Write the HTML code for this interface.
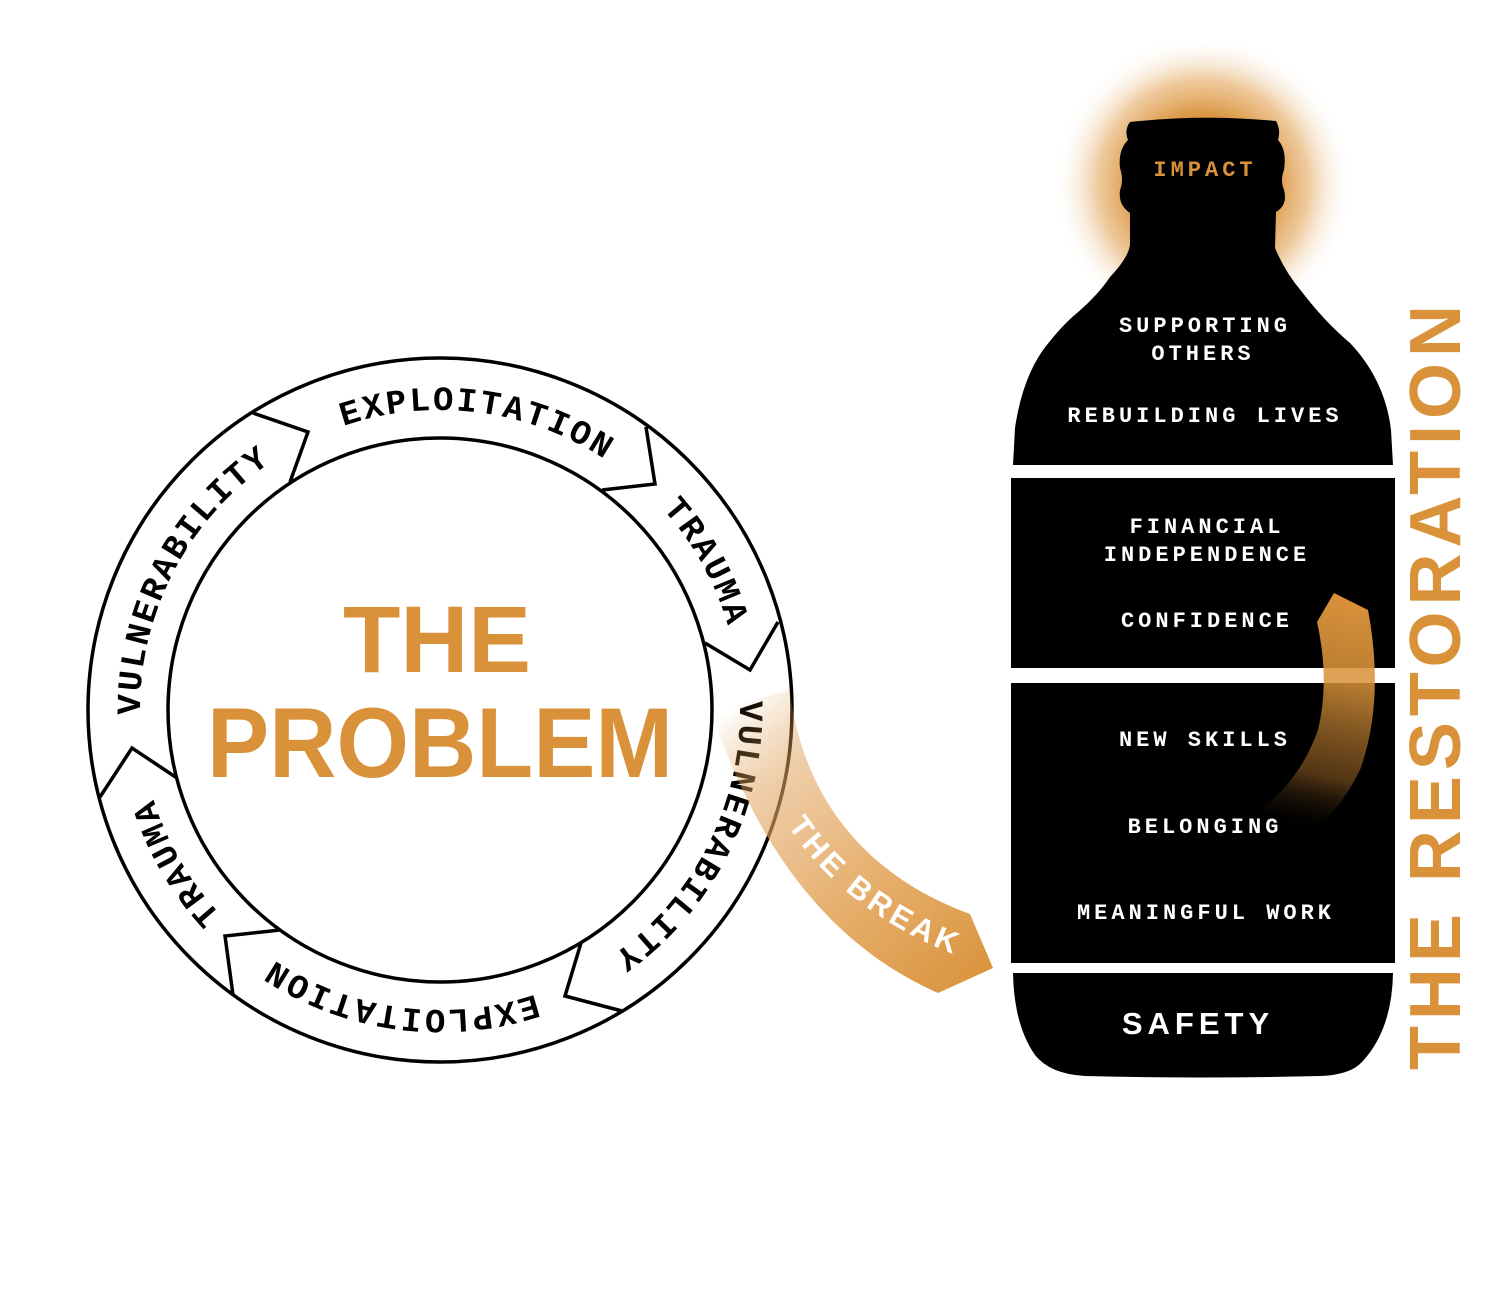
<!DOCTYPE html>
<html><head><meta charset="utf-8"><style>
html,body{margin:0;padding:0;background:#fff;}
svg{display:block;}
.ring{font-family:"Liberation Mono",monospace;font-weight:bold;font-size:34px;letter-spacing:2.5px;fill:#000;}
.bt{font-family:"Liberation Mono",monospace;font-weight:bold;font-size:22px;letter-spacing:4px;fill:#fff;text-anchor:middle;}
</style></head><body>
<svg width="1500" height="1311" viewBox="0 0 1500 1311" xmlns="http://www.w3.org/2000/svg">
<defs>
<path id="cp" d="M740,710 A300,300 0 1 1 140,710 A300,300 0 1 1 740,710 A300,300 0 1 1 140,710 A300,300 0 1 1 740,710"/>
<path id="bp" d="M745,725 C770,835 850,920 975,962"/>
<linearGradient id="brk" x1="740" y1="700" x2="980" y2="990" gradientUnits="userSpaceOnUse">
<stop offset="0" stop-color="#d9923a" stop-opacity="0"/>
<stop offset="0.22" stop-color="#e2a664" stop-opacity="0.55"/>
<stop offset="0.6" stop-color="#e3a65c" stop-opacity="0.9"/>
<stop offset="1" stop-color="#d9923a" stop-opacity="1"/>
</linearGradient>
<radialGradient id="glow" cx="1203" cy="185" r="150" gradientUnits="userSpaceOnUse">
<stop offset="0.45" stop-color="#d9923a" stop-opacity="1"/>
<stop offset="0.7" stop-color="#e3a65c" stop-opacity="0.6"/>
<stop offset="1" stop-color="#ffffff" stop-opacity="0"/>
</radialGradient>
<linearGradient id="arr" x1="1340" y1="595" x2="1290" y2="830" gradientUnits="userSpaceOnUse">
<stop offset="0" stop-color="#d9923a" stop-opacity="1"/>
<stop offset="0.35" stop-color="#d9923a" stop-opacity="0.85"/>
<stop offset="0.75" stop-color="#8a5a22" stop-opacity="0.6"/>
<stop offset="1" stop-color="#000" stop-opacity="0"/>
</linearGradient>
</defs>

<circle cx="440" cy="710" r="352" fill="none" stroke="#000" stroke-width="3.5"/>
<circle cx="440" cy="710" r="272" fill="none" stroke="#000" stroke-width="3.5"/>
<g fill="none" stroke="#000" stroke-width="3.5" stroke-linejoin="miter">
<polyline points="253,413 308,432 290,482"/>
<polyline points="646,427 655,484 602,490"/>
<polyline points="778,622 750,670 705,643"/>
<polyline points="100,797 132,748 177,778"/>
<polyline points="233,995 225,936 280,930"/>
<polyline points="622,1011 565,996 581,943"/>
</g>
<text class="ring"><textPath href="#cp" startOffset="38.53%" text-anchor="middle">EXPLOITATION</textPath></text>
<text class="ring"><textPath href="#cp" startOffset="45.97%" text-anchor="middle">TRAUMA</textPath></text>
<text class="ring"><textPath href="#cp" startOffset="53.71%" text-anchor="middle">VULNERABILITY</textPath></text>
<text class="ring"><textPath href="#cp" startOffset="13.57%" text-anchor="middle">EXPLOITATION</textPath></text>
<text class="ring"><textPath href="#cp" startOffset="20.83%" text-anchor="middle">TRAUMA</textPath></text>
<text class="ring"><textPath href="#cp" startOffset="28.82%" text-anchor="middle">VULNERABILITY</textPath></text>

<text x="343" y="672" font-family="Liberation Sans,sans-serif" font-weight="bold" font-size="95" fill="#d9923a" textLength="188" lengthAdjust="spacingAndGlyphs">THE</text>
<text x="207" y="777" font-family="Liberation Sans,sans-serif" font-weight="bold" font-size="99" fill="#d9923a" textLength="466" lengthAdjust="spacingAndGlyphs">PROBLEM</text>

<path d="M790,690 C800,780 850,870 970,914 L993,968 L938,993 C840,950 760,860 712,712 Z" fill="url(#brk)"/>
<text font-family="Liberation Sans,sans-serif" font-weight="bold" font-size="31" letter-spacing="4" fill="#fff"><textPath href="#bp" startOffset="63%" text-anchor="middle">THE BREAK</textPath></text>

<ellipse cx="1203" cy="185" rx="150" ry="150" fill="url(#glow)"/>

<path fill="#000" d="M1130,122 Q1203,114 1276,121 Q1281,130 1278,140 Q1287,150 1284,170 Q1280,180 1284,190 Q1288,205 1276,212 L1275,248 Q1285,272 1302,292 Q1325,322 1350,343 Q1385,380 1391,430 L1393,465 L1013,465 L1015,428 Q1022,380 1043,350 Q1062,325 1077,313 Q1098,295 1110,277 Q1128,258 1130,245 L1130,213 Q1118,205 1120,190 Q1124,180 1120,168 Q1118,150 1128,140 Q1124,130 1130,122 Z"/>
<rect x="1011" y="478" width="384" height="190" fill="#000"/>
<rect x="1011" y="683" width="384" height="280" fill="#000"/>
<path fill="#000" d="M1013,973 L1393,973 Q1392,1030 1362,1062 Q1350,1075 1320,1076 Q1200,1079 1085,1076 Q1050,1074 1035,1055 Q1014,1025 1013,973 Z"/>

<path d="M1334,593 L1368,610 Q1385,700 1360,770 Q1340,810 1308,838 L1262,808 Q1300,780 1318,730 Q1330,680 1317,622 Z" fill="url(#arr)"/>

<text class="bt" x="1205" y="176" style="fill:#d9923a">IMPACT</text>
<text class="bt" x="1205" y="332">SUPPORTING</text>
<text class="bt" x="1203" y="360">OTHERS</text>
<text class="bt" x="1205" y="422">REBUILDING LIVES</text>
<text class="bt" x="1207" y="533">FINANCIAL</text>
<text class="bt" x="1207" y="561">INDEPENDENCE</text>
<text class="bt" x="1207" y="627">CONFIDENCE</text>
<text class="bt" x="1205" y="746">NEW SKILLS</text>
<text class="bt" x="1205" y="833">BELONGING</text>
<text class="bt" x="1206" y="919">MEANINGFUL WORK</text>
<text x="1198" y="1034" font-family="Liberation Sans,sans-serif" font-weight="bold" font-size="31" letter-spacing="5" fill="#fff" text-anchor="middle">SAFETY</text>

<text transform="translate(1460,1070) rotate(-90)" x="0" y="0" font-family="Liberation Sans,sans-serif" font-weight="bold" font-size="72" fill="#d9923a" textLength="765" lengthAdjust="spacing">THE RESTORATION</text>
</svg>
</body></html>
